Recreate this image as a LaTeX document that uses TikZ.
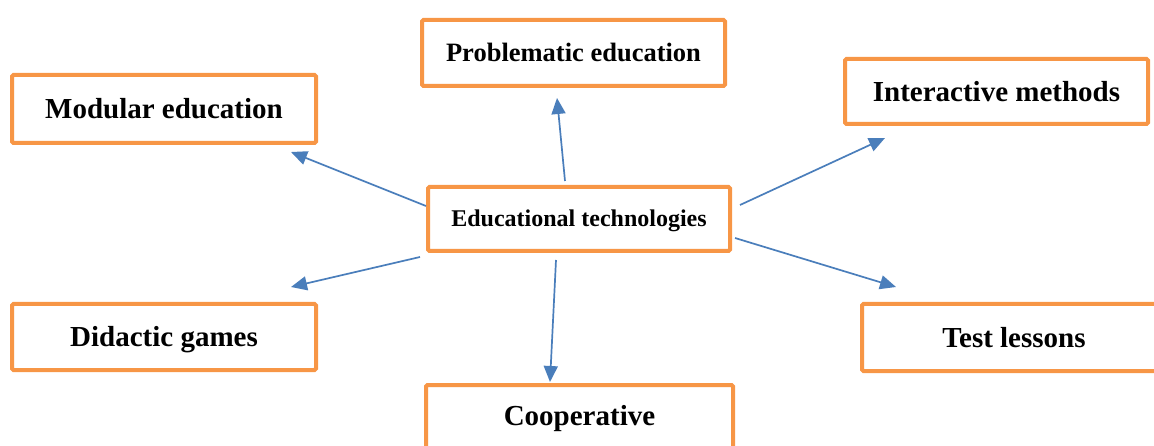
\documentclass[tikz,border=0pt]{standalone}
\usepackage{fontspec}
\setmainfont{Liberation Serif}
\usetikzlibrary{arrows.meta}
\definecolor{boxorange}{HTML}{F79646}
\definecolor{arrowblue}{HTML}{4A7EBB}
\tikzset{
  box/.style={draw=boxorange, line width=4pt, rounded corners=1.5pt, fill=white,
    text depth=0pt, inner sep=0pt, align=center},
  bigtext/.style={font=\bfseries\fontsize{29}{33}\selectfont, text height=19.2pt},
  arr/.style={draw=arrowblue, line width=1.7pt, -{Triangle[length=16pt,width=14pt]}},
}
\begin{document}
\begin{tikzpicture}[x=1pt,y=-1pt]
\useasboundingbox (0,0) rectangle (1154,446);
\clip (0,0) rectangle (1154,446);

\node[box, bigtext, minimum width=304pt, minimum height=68pt] (mod) at (164,109) {Modular education};
\node[box, minimum width=303pt, minimum height=66pt,
      font=\bfseries\fontsize{26.5}{30}\selectfont, text height=17.5pt] (prob) at (573.5,53) {Problematic education};
\node[box, bigtext, minimum width=303pt, minimum height=65pt] (inter) at (996.5,91.5) {Interactive methods};
\node[box, minimum width=302pt, minimum height=64pt,
      font=\bfseries\fontsize{24}{28}\selectfont, text height=15.9pt] (edu) at (579,219) {Educational technologies};
\node[box, bigtext, minimum width=304pt, minimum height=66pt] (did) at (164,337) {Didactic games};
\node[box, bigtext, minimum width=304pt, minimum height=67pt] (test) at (1014,337.5) {Test lessons};
\node[box, bigtext, anchor=north, minimum width=307pt, text height=30pt, text depth=60pt, inner ysep=10pt] (coop) at (579.5,383) {Cooperative};

\draw[arr] ([yshift=13pt]edu.west) -- ([xshift=-27pt,yshift=-7pt]mod.south east);
\draw[arr] ([xshift=-6pt,yshift=-4pt]edu.south west) -- ([xshift=-27pt,yshift=15pt]did.north east);
\draw[arr] ([xshift=-14pt,yshift=4pt]edu.north) -- ([xshift=-16.5pt,yshift=-10pt]prob.south);
\draw[arr] ([xshift=-23pt,yshift=-7pt]edu.south) -- ([xshift=-29.5pt,yshift=1pt]coop.north);
\draw[arr] ([xshift=8pt,yshift=14pt]edu.east) -- ([xshift=42pt,yshift=-12pt]inter.south west);
\draw[arr] ([xshift=3pt,yshift=-19pt]edu.east) -- ([xshift=36pt,yshift=15pt]test.north west);
\end{tikzpicture}
\end{document}
